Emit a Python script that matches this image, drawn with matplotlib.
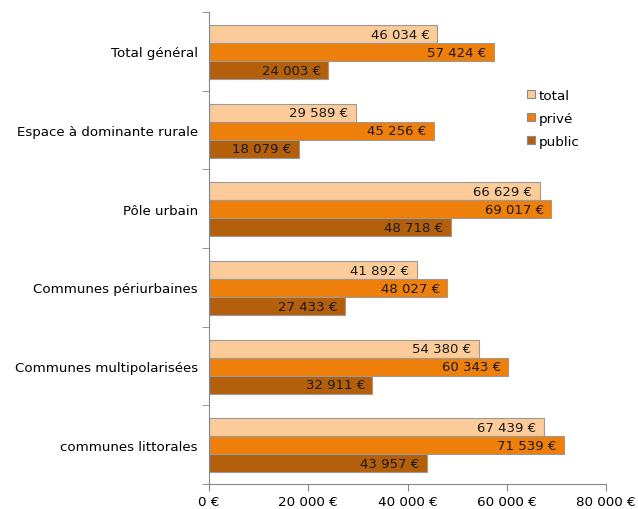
import matplotlib
matplotlib.use("Agg")
import matplotlib.pyplot as plt
import numpy as np
from matplotlib.ticker import FuncFormatter

categories = ["Total général", "Espace à dominante rurale", "Pôle urbain",
              "Communes périurbaines", "Communes multipolarisées", "communes littorales"]
total = [46034, 29589, 66629, 41892, 54380, 67439]
prive = [57424, 45256, 69017, 48027, 60343, 71539]
public = [24003, 18079, 48718, 27433, 32911, 43957]
series_names = ["total", "privé", "public"]
colors = ["#FBCB9A", "#EF7F0B", "#B35F0B"]

plt.rcParams['font.family'] = ['DejaVu Sans']

def fmt(v):
    s = f"{int(v):,}".replace(",", " ")
    return f"{s} €"

fig = plt.figure(figsize=(6.38, 5.10), dpi=100)
ax = fig.add_axes([209/638, 25/510, (606-209)/638, (497-25)/510])

n = len(categories)
y = np.arange(n)
h = 0.229
offsets = [-h, 0, h]
for vals, name, col, off in zip([total, prive, public], series_names, colors, offsets):
    bars = ax.barh(y + off + 0.01, vals, height=h, color=col, edgecolor="#9A9A9A",
                   linewidth=0.8, label=name)
    for b, v in zip(bars, vals):
        ax.text(b.get_width() - 1500, b.get_y() + b.get_height()/2, fmt(v),
                ha="right", va="center", fontsize=9.5, color="#1a1a1a")

ax.set_ylim(n - 0.5, -0.5)
ax.set_xlim(0, 80000)
ax.set_yticks(y)
ax.set_yticklabels(categories, fontsize=9.6)
ax.tick_params(axis="y", length=0, pad=8)
ax.set_yticks(np.arange(-0.5, n, 1), minor=True)
ax.tick_params(axis="y", which="minor", length=5, color="#888888")
ax.set_xticks([0, 20000, 40000, 60000, 80000])
ax.xaxis.set_major_formatter(FuncFormatter(lambda v, p: fmt(v)))
ax.tick_params(axis="x", length=5, color="#888888", labelsize=9.7, pad=3)
for s in ["top", "right"]:
    ax.spines[s].set_visible(False)
for s in ["left", "bottom"]:
    ax.spines[s].set_color("#888888")

leg = ax.legend(loc="upper left", bbox_to_anchor=(0.787, 0.849), frameon=False,
                fontsize=9.7, handlelength=0.6, handleheight=0.6, handletextpad=0.25,
                labelspacing=0.75, borderaxespad=0)
for hnd in leg.legend_handles:
    hnd.set_edgecolor("#8A8A8A")
    hnd.set_linewidth(0.8)

fig.savefig("out.png", dpi=100)
